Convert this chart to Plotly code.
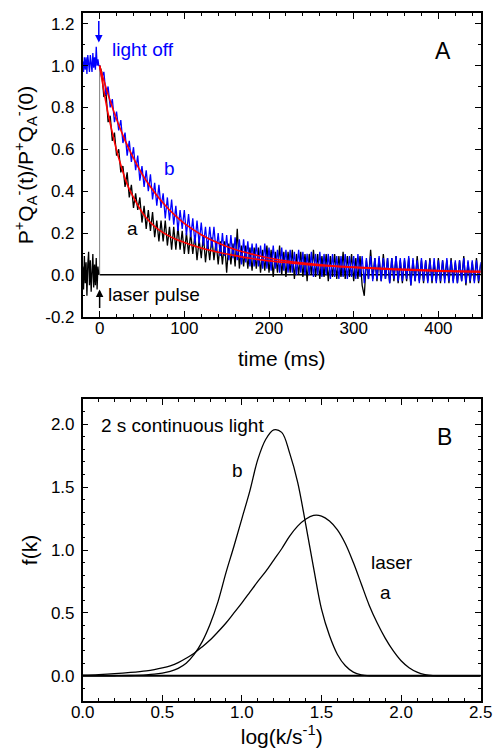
import plotly.graph_objects as go

# ---------------- Panel A data (time in ms, normalised signal) ----------------
PRE_STEP_MS = 1.0      # sampling before t = 0
STEP_MS = 2.5          # sampling after t = 0
PRE_START_MS = -20.0

black_pre = [0.04, -0.07, 0.09, -0.04, 0.06, -0.10, 0.05, 0.11, -0.05, 0.07,
             -0.08, 0.03, 0.10, -0.06, 0.05, -0.05, 0.08, -0.07, 0.04, 0.00]
blue_pre = [1.02, 0.97, 1.04, 0.98, 1.04, 0.96, 1.05, 1.00, 0.97, 1.05,
            1.01, 0.97, 1.06, 0.99, 1.04, 0.98, 1.09, 1.00, 1.03, 1.00]

black_trace = [
    1.00, 0.97, 0.85, 0.87, 0.73, 0.76, 0.64, 0.68, 0.57, 0.60,
    0.49, 0.52, 0.42, 0.49, 0.37, 0.43, 0.32, 0.39, 0.31, 0.37,
    0.25, 0.33, 0.22, 0.31, 0.21, 0.30, 0.18, 0.26, 0.16, 0.26,
    0.16, 0.26, 0.14, 0.23, 0.12, 0.23, 0.12, 0.23, 0.12, 0.21,
    0.10, 0.20, 0.10, 0.20, 0.10, 0.19, 0.07, 0.17, 0.08, 0.19,
    0.06, 0.16, 0.07, 0.18, 0.07, 0.16, 0.05, 0.16, 0.05, 0.16,
    0.01, 0.15, 0.05, 0.15, 0.04, 0.22, 0.03, 0.14, 0.04, 0.14,
    0.03, 0.13, 0.02, 0.13, 0.03, 0.13, 0.01, 0.12, 0.02, 0.14,
    0.01, 0.12, -0.01, 0.11, 0.01, 0.14, 0.00, 0.11, -0.01, 0.11,
    0.01, 0.12, -0.02, 0.10, 0.00, 0.11, -0.01, 0.10, -0.03, 0.10,
    0.00, 0.12, -0.01, 0.10, -0.02, 0.09, -0.01, 0.10, -0.03, 0.09,
    -0.01, 0.10, -0.02, 0.09, -0.01, 0.11, -0.02, 0.09, -0.01, 0.10,
    -0.03, 0.08, -0.02, 0.09, -0.05, -0.10, 0.07, -0.02, 0.12, -0.02,
    0.08, -0.03, 0.08, -0.03, 0.10, -0.02, 0.08, -0.04, 0.08, -0.03,
    0.09, -0.04, 0.07, -0.04, 0.07, -0.03, 0.08, -0.05, 0.07, -0.03,
    0.09, -0.03, 0.07, -0.04, 0.07, -0.03, 0.08, -0.04, 0.06, -0.03,
    0.08, -0.04, 0.07, -0.02, 0.07, -0.04, 0.08, -0.03, 0.06, -0.04,
    0.07, -0.03, 0.09, -0.05, 0.06, -0.04, 0.06, -0.03, 0.08, -0.04, 0.05,
]

blue_trace = [
    1.00, 0.94, 0.97, 0.86, 0.90, 0.80, 0.84, 0.73, 0.78, 0.69,
    0.74, 0.63, 0.68, 0.57, 0.64, 0.54, 0.61, 0.50, 0.57, 0.45,
    0.52, 0.42, 0.50, 0.40, 0.48, 0.36, 0.44, 0.33, 0.43, 0.32,
    0.39, 0.27, 0.37, 0.26, 0.36, 0.24, 0.33, 0.21, 0.31, 0.22,
    0.31, 0.19, 0.29, 0.18, 0.27, 0.15, 0.26, 0.15, 0.25, 0.14,
    0.23, 0.12, 0.23, 0.13, 0.23, 0.11, 0.20, 0.09, 0.20, 0.09,
    0.19, 0.07, 0.19, 0.08, 0.18, 0.07, 0.17, 0.05, 0.17, 0.06,
    0.16, 0.04, 0.15, 0.04, 0.15, 0.04, 0.14, 0.03, 0.15, 0.03,
    0.13, 0.02, 0.14, 0.03, 0.12, 0.01, 0.13, 0.02, 0.12, 0.01,
    0.12, 0.01, 0.11, 0.00, 0.12, 0.01, 0.11, 0.00, 0.10, 0.00,
    0.11, -0.01, 0.10, 0.00, 0.11, -0.01, 0.10, 0.00, 0.10, -0.02,
    0.10, -0.01, 0.09, -0.02, 0.09, -0.01, 0.10, -0.02, 0.09, -0.01,
    0.09, -0.02, 0.10, -0.01, 0.09, -0.04, 0.08, -0.02, 0.09, -0.03,
    0.08, -0.02, 0.09, -0.03, 0.08, -0.02, 0.08, -0.04, 0.08, -0.02,
    0.09, -0.03, 0.08, -0.03, 0.08, -0.02, 0.09, -0.05, 0.08, -0.03,
    0.07, -0.04, 0.08, -0.03, 0.07, -0.04, 0.07, -0.03, 0.08, -0.04,
    0.07, -0.03, 0.07, -0.04, 0.08, -0.03, 0.07, -0.04, 0.07, -0.04,
    0.07, -0.03, 0.08, -0.04, 0.07, -0.03, 0.07, -0.04, 0.07, -0.03, 0.06,
]

fit_a_t = [0, 5, 10, 15, 20, 25, 30, 35, 40, 50, 60, 70, 80, 90, 100, 120, 140,
           160, 180, 200, 225, 250, 275, 300, 350, 400, 450]
fit_a = [1.00, 0.88, 0.77, 0.68, 0.595, 0.525, 0.46, 0.41, 0.37, 0.30, 0.25, 0.215,
         0.19, 0.17, 0.155, 0.128, 0.108, 0.092, 0.078, 0.067, 0.057, 0.048, 0.041,
         0.035, 0.025, 0.018, 0.013]
fit_b_t = [0, 5, 10, 15, 20, 25, 30, 40, 50, 60, 70, 80, 90, 100, 120, 140, 160,
           180, 200, 225, 250, 275, 300, 350, 400, 450]
fit_b = [1.00, 0.929, 0.862, 0.801, 0.744, 0.692, 0.643, 0.558, 0.483, 0.421, 0.367,
         0.321, 0.281, 0.246, 0.192, 0.152, 0.121, 0.099, 0.081, 0.064, 0.053, 0.043,
         0.037, 0.028, 0.021, 0.017]

A_X_TICKS = [0, 100, 200, 300, 400]
A_Y_TICKS = [-0.2, 0.0, 0.2, 0.4, 0.6, 0.8, 1.0, 1.2]
A_Y_LABELS = ["-0.2", "0.0", "0.2", "0.4", "0.6", "0.8", "1.0", "1.2"]

# ---------------- Panel B data (rate distributions) ----------------
logk = [0.0, 0.1, 0.2, 0.3, 0.4, 0.45, 0.5, 0.55, 0.6, 0.65, 0.7, 0.75, 0.8, 0.85,
        0.9, 0.95, 1.0, 1.05, 1.1, 1.15, 1.2, 1.25, 1.3, 1.35, 1.4, 1.45, 1.5, 1.55,
        1.6, 1.65, 1.7, 1.75, 1.8, 1.85, 1.9, 1.95, 2.0, 2.05, 2.1, 2.15, 2.2, 2.3,
        2.4, 2.5]
f_laser_a = [0.005, 0.01, 0.017, 0.027, 0.040, 0.050, 0.063, 0.080, 0.105, 0.14,
             0.18, 0.23, 0.285, 0.35, 0.42, 0.50, 0.58, 0.665, 0.75, 0.83, 0.92,
             1.01, 1.11, 1.19, 1.245, 1.275, 1.27, 1.23, 1.16, 1.05, 0.90, 0.73,
             0.56, 0.42, 0.30, 0.20, 0.12, 0.065, 0.03, 0.01, 0.002, 0.0, 0.0, 0.0]
f_light_b = [0.0, 0.0, 0.001, 0.003, 0.008, 0.013, 0.022, 0.036, 0.06, 0.10, 0.17,
             0.27, 0.41, 0.59, 0.82, 1.03, 1.25, 1.47, 1.72, 1.88, 1.955, 1.935,
             1.77, 1.54, 1.21, 0.86, 0.53, 0.32, 0.17, 0.08, 0.03, 0.008, 0.0, 0.0,
             0.0, 0.0, 0.0, 0.0, 0.0, 0.0, 0.0, 0.0, 0.0, 0.0]

B_X_TICKS = [0.0, 0.5, 1.0, 1.5, 2.0, 2.5]
B_X_LABELS = ["0.0", "0.5", "1.0", "1.5", "2.0", "2.5"]
B_Y_TICKS = [0.0, 0.5, 1.0, 1.5, 2.0]
B_Y_LABELS = ["0.0", "0.5", "1.0", "1.5", "2.0"]

# ---------------- build ----------------
FONT = "Liberation Sans, Arial, Helvetica, sans-serif"
BLUE = "#0000ff"
RED = "#ff0000"

t_pre = [PRE_START_MS + i * PRE_STEP_MS for i in range(len(black_pre))]
t_black = [i * STEP_MS for i in range(len(black_trace))]
t_blue = [i * STEP_MS for i in range(len(blue_trace))]

fig = go.Figure()

def line(x, y, color, width, xa="x", ya="y", shape="linear"):
    fig.add_trace(go.Scatter(x=x, y=y, mode="lines", xaxis=xa, yaxis=ya,
                             line=dict(color=color, width=width, shape=shape),
                             hoverinfo="skip", showlegend=False))

# panel A
line([0, 450], [0, 0], "black", 1.5)
line([0, 0], [0, 1], "#808080", 1)
line(t_pre, black_pre, "black", 1.3)
line(t_black, black_trace, "black", 1.3)
line(t_pre + t_blue, blue_pre + blue_trace, BLUE, 1.3)
line(fit_a_t, fit_a, RED, 1.6, shape="spline")
line(fit_b_t, fit_b, RED, 1.6, shape="spline")

# panel B
line([0, 2.5], [0, 0], "black", 2, "x2", "y2")
line(logk, f_laser_a, "black", 1.3, "x2", "y2", "spline")
line(logk, f_light_b, "black", 1.3, "x2", "y2", "spline")

axis_common = dict(
    showline=True, linecolor="black", linewidth=1.5, mirror="allticks",
    ticks="inside", ticklen=6, tickwidth=1.3, tickcolor="black",
    showgrid=False, zeroline=False,
    tickfont=dict(family=FONT, size=17, color="black"),
    title_font=dict(family=FONT, size=21, color="black"),
    minor=dict(ticks="inside", ticklen=3, tickwidth=1, tickcolor="black", showgrid=False),
    automargin=False,
)

XDOM = [0.1674, 0.9731]
fig.update_layout(
    width=494, height=755,
    margin=dict(l=0, r=0, t=0, b=0),
    paper_bgcolor="white", plot_bgcolor="white",
    font=dict(family=FONT, color="black"),
    xaxis=dict(axis_common, domain=XDOM, anchor="y", range=[-20, 450],
               tickvals=A_X_TICKS, minor_dtick=20, minor_tick0=0, ticklabelstandoff=-5,
               title=dict(text="time (ms)", standoff=14)),
    yaxis=dict(axis_common, domain=[0.5805, 0.9824], anchor="x", range=[-0.2, 1.25],
               tickvals=A_Y_TICKS, ticktext=A_Y_LABELS, minor_dtick=0.1, minor_tick0=0,
               ticklabelstandoff=3,
               title=dict(text="P<sup>+</sup>Q<sub>A</sub><sup>-</sup>(t)/P<sup>+</sup>Q<sub>A</sub><sup>-</sup>(0)",
                          standoff=6)),
    xaxis2=dict(axis_common, domain=XDOM, anchor="y2", range=[0, 2.5],
                tickvals=B_X_TICKS, ticktext=B_X_LABELS, minor_dtick=0.1, minor_tick0=0,
                ticklabelstandoff=-5,
                title=dict(text="log(k/s<sup>-1</sup>)", standoff=7)),
    yaxis2=dict(axis_common, domain=[0.0715, 0.4715], anchor="x2", range=[-0.2, 2.2],
                tickvals=B_Y_TICKS, ticktext=B_Y_LABELS, minor_dtick=0.1, minor_tick0=0,
                ticklabelstandoff=3,
                title=dict(text="f(k)", standoff=8)),
)

def label(text, x, y, xa="x", ya="y", size=19, color="black", xanchor="center"):
    fig.add_annotation(text=text, x=x, y=y, xref=xa, yref=ya, showarrow=False,
                       xanchor=xanchor, yanchor="middle",
                       font=dict(family=FONT, size=size, color=color))

label("light off", 12, 1.075, color=BLUE, xanchor="left")
label("b", 83, 0.51, color=BLUE)
label("a", 39, 0.22)
label("laser pulse", 8, -0.095, xanchor="left")
label("A", 405, 1.07, size=23)

fig.add_annotation(x=-1, y=1.11, ax=-1, ay=1.22, xref="x", yref="y", axref="x", ayref="y",
                   showarrow=True, arrowhead=2, arrowsize=1, arrowwidth=1.5,
                   arrowcolor=BLUE, text="")
fig.add_annotation(x=0, y=-0.07, ax=0, ay=-0.165, xref="x", yref="y", axref="x", ayref="y",
                   showarrow=True, arrowhead=2, arrowsize=1, arrowwidth=1.5,
                   arrowcolor="black", text="")

label("2 s continuous light", 0.10, 1.99, "x2", "y2", xanchor="left")
label("b", 0.97, 1.635, "x2", "y2")
label("laser", 1.80, 0.90, "x2", "y2", xanchor="left")
label("a", 1.90, 0.665, "x2", "y2")
label("B", 2.275, 1.90, "x2", "y2", size=23)

fig.write_html("out.html", config={"displayModeBar": False},
               post_script="document.body.style.margin='0px';")
